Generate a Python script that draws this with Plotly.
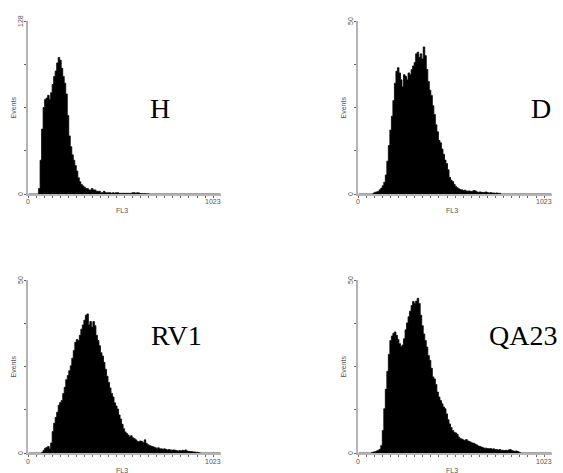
import numpy as np
import plotly.graph_objects as go

# FL3 channel bins (8 channels per bin, 0..1023)
channels = np.arange(4, 1024, 8)

# Mean events per channel in each bin
counts_H = [
    0, 0, 0, 0, 0, 0, 0, 4, 25, 48, 64, 70, 71, 73, 70, 75,
    81, 87, 91, 97, 101, 99, 93, 87, 82, 74, 58, 43, 35, 29, 25, 21,
    17, 12, 9, 7, 6, 5, 4, 4, 3, 3, 4, 3, 3, 2, 2, 2,
    1, 1, 2, 1, 1, 1, 1, 0.5, 1, 0.5, 1, 1, 0.5, 0.5, 0.5, 0.5,
    0.5, 0.5, 0.5, 0.5, 0.5, 1, 1, 0.5, 1, 0.8, 0.3, 0.3, 0.3, 0.3, 0.2, 0.2,
    0, 0, 0, 0, 0, 0, 0, 0, 0, 0, 0, 0, 0, 0, 0, 0,
    0, 0, 0, 0, 0, 0, 0, 0, 0, 0, 0, 0, 0, 0, 0, 0,
    0, 0, 0, 0, 0, 0, 0, 0, 0, 0, 0, 0, 0, 0, 0, 0,
]

counts_D = [
    0, 0, 0, 0, 0, 0, 0, 0, 0, 0, 0.3, 0.5, 0.6, 0.8, 1.2, 1.7,
    2.4, 3.4, 5.5, 9.5, 14, 18.5, 22.5, 27, 32, 35.5, 36.5, 35, 33, 31, 34.5, 34,
    33, 35, 34.5, 36, 37, 38, 40.5, 41, 39.5, 40.5, 39, 42.5, 40, 36, 32.5, 30,
    28.5, 25.5, 23, 20, 18, 15.5, 14.8, 13, 11.5, 9.8, 8.8, 7, 4.8, 4, 3.6, 2.8,
    2.2, 1.8, 1.5, 1.3, 1.2, 1.0, 1.1, 0.9, 0.8, 0.9, 0.7, 0.8, 1.0, 0.9, 0.6, 0.5,
    0.6, 0.5, 0.4, 0.5, 0.6, 0.4, 0.3, 0.4, 0.3, 0.3, 0.2, 0.3, 0.2, 0.2, 0, 0,
    0, 0, 0, 0, 0, 0, 0, 0, 0, 0, 0, 0, 0, 0, 0, 0,
    0, 0, 0, 0, 0, 0, 0, 0, 0, 0, 0, 0, 0, 0, 0, 0,
]

counts_RV1 = [
    0, 0, 0, 0, 0, 0, 0, 0, 0, 0.2, 0.8, 1.4, 1.6, 1.9, 1.2, 2.9,
    6.2, 8.6, 10.3, 11.8, 13.8, 14.6, 15.2, 17.2, 19, 21.2, 22.4, 23.8, 25.2, 27.4, 29.6, 32,
    32.8, 32.5, 34, 35.8, 37, 38.4, 39.8, 40.2, 37, 38, 36.4, 38, 36.8, 34, 32.5, 31,
    29, 28, 26.2, 24.2, 22.2, 20.4, 18.8, 17.2, 16.2, 14.5, 13.6, 12.7, 11, 9.8, 8.3, 7,
    6.1, 5.6, 5.2, 4.6, 5.0, 4.4, 4.2, 3.8, 3.4, 3.2, 3.5, 3.3, 3.0, 3.8, 2.8, 2.4,
    2.2, 2.0, 1.9, 1.7, 1.5, 1.4, 1.5, 1.2, 1.2, 1.1, 1.2, 1.0, 0.9, 1.0, 0.9, 0.8,
    0.9, 0.8, 0.7, 0.6, 0.7, 0.6, 0.8, 0.7, 0.9, 0.6, 0.5, 0.4, 0.4, 0.3, 0.3, 0.2,
    0.2, 0.1, 0, 0, 0, 0, 0, 0, 0, 0, 0, 0, 0, 0, 0, 0,
]

counts_QA23 = [
    0, 0, 0, 0, 0, 0, 0, 0, 0, 0.2, 0.3, 0.4, 0.6, 0.8, 1.1, 2.2,
    6.5, 12.8, 18.4, 23.6, 28.5, 32.5, 33.8, 34.6, 35.0, 34.0, 32.8, 31.6, 30.8, 31.2, 33.0, 35.6,
    37.6, 39.4, 41.0, 42.6, 43.8, 43.2, 43.9, 44.7, 43.2, 39.8, 36.8, 34.4, 32.5, 30.6, 28.2, 26.8,
    24.5, 22.0, 21.4, 19.8, 17.6, 16.2, 15.2, 14.2, 13.3, 12.8, 11.3, 9.6, 8.4, 7.4, 6.5, 6.0,
    5.8, 5.4, 4.6, 4.2, 4.0, 3.8, 3.6, 3.9, 3.5, 3.3, 3.1, 2.9, 2.8, 2.5, 2.3, 2.0,
    1.9, 1.7, 1.5, 1.4, 1.4, 1.3, 1.2, 1.3, 1.1, 1.2, 1.0, 1.0, 0.9, 1.0, 0.8, 0.8,
    0.7, 0.8, 0.7, 0.9, 1.0, 0.7, 0.6, 0.5, 0.6, 0.4, 0.2, 0, 0, 0, 0, 0,
    0, 0, 0, 0, 0, 0, 0, 0, 0, 0, 0, 0, 0, 0, 0, 0,
]

sample_names = ["H", "D", "RV1", "QA23"]
y_maxima = [128, 50, 50, 50]
x_tick_labels = ["0", "1023"]
x_title = "FL3"
y_title = "Events"
all_counts = [counts_H, counts_D, counts_RV1, counts_QA23]

W, H = 563, 473
# panel boxes in pixels: left, right, top, bottom
boxes = [(28, 221, 21, 194), (358, 552, 21, 194),
         (28, 221, 280, 453), (358, 552, 280, 453)]
# sample label centres in pixels
label_pos = [(160, 108), (541, 108), (176, 335), (523, 335)]


def px(x):
    return x / W


def py(y):
    return 1 - y / H


fig = go.Figure()
annotations = []
small = dict(family="Liberation Sans, Arial, sans-serif", size=7, color="#555555")

for i, (name, ymax, counts, box, lp) in enumerate(
        zip(sample_names, y_maxima, all_counts, boxes, label_pos)):
    n = "" if i == 0 else str(i + 1)
    xl, xr, yt, yb = box
    # filled step outline of the histogram (steps halfway between bin centres)
    fig.add_trace(go.Scatter(
        x=channels, y=counts, mode="lines",
        line=dict(color="black", width=0.8, shape="hvh"),
        fill="tozeroy", fillcolor="black",
        xaxis="x" + n, yaxis="y" + n, showlegend=False, hoverinfo="skip",
    ))
    fig.layout["xaxis" + n] = dict(
        domain=[px(xl), px(xr)], range=[0, 1023], anchor="y" + n,
        showline=True, linecolor="#b4b4b4", linewidth=2,
        showgrid=False, zeroline=False, showticklabels=False,
        ticks="outside", ticklen=2, tickwidth=1, tickcolor="#666666",
        tickmode="linear", tick0=0, dtick=1024 / 24,
    )
    fig.layout["yaxis" + n] = dict(
        domain=[py(yb), py(yt)], range=[0, ymax], anchor="x" + n,
        showline=True, linecolor="#b4b4b4", linewidth=2,
        showgrid=False, zeroline=False, showticklabels=False,
        ticks="outside", ticklen=2, tickwidth=1, tickcolor="#666666",
        tickmode="linear", tick0=0, dtick=ymax / 4,
    )
    # axis end labels (rotated on the y axis) and axis titles
    panel_text = [
        dict(x=px(xl - 8), y=py(yb), text="0", textangle=-90),
        dict(x=px(xl - 8), y=py(yt), text=str(ymax), textangle=-90),
        dict(x=px(xl), y=py(yb + 8), text=x_tick_labels[0]),
        dict(x=px(xr - 8), y=py(yb + 8), text=x_tick_labels[1]),
        dict(x=px((xl + xr) / 2 - 3), y=py(yb + 17), text=x_title),
        dict(x=px(xl - 15), y=py((yt + yb) / 2), text=y_title, textangle=-90),
    ]
    annotations += [dict(a, xref="paper", yref="paper", showarrow=False,
                         xanchor="center", yanchor="middle", font=small)
                    for a in panel_text]
    annotations.append(dict(
        x=px(lp[0]), y=py(lp[1]), xref="paper", yref="paper", text=name,
        showarrow=False, xanchor="center", yanchor="middle",
        font=dict(family="Liberation Serif, Times New Roman, serif", size=28, color="black"),
    ))

fig.update_layout(
    width=W, height=H, margin=dict(l=0, r=0, t=0, b=0),
    paper_bgcolor="white", plot_bgcolor="white",
    annotations=annotations,
)

fig.write_html("out.html")
